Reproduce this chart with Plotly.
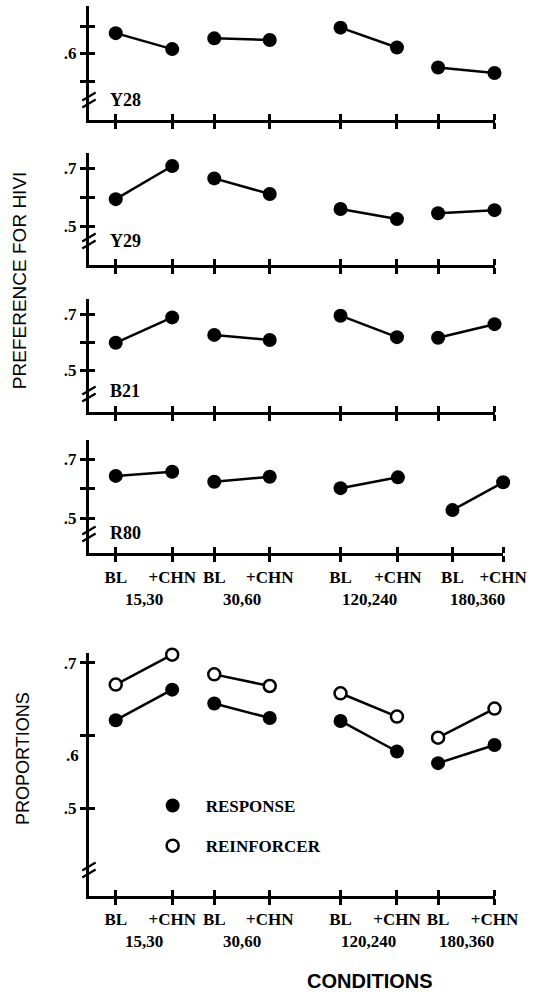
import plotly.graph_objects as go

W, H = 552, 994

# ---------------- data ----------------
CONDITIONS = ["BL", "+CHN", "BL", "+CHN", "BL", "+CHN", "BL", "+CHN"]
GROUPS = ["15,30", "30,60", "120,240", "180,360"]
SUBJECTS = ["Y28", "Y29", "B21", "R80"]

Y28 = [0.674, 0.616, 0.655, 0.649, 0.694, 0.622, 0.549, 0.529]
Y29 = [0.593, 0.708, 0.665, 0.611, 0.559, 0.524, 0.544, 0.555]
B21 = [0.598, 0.688, 0.626, 0.608, 0.694, 0.618, 0.616, 0.664]
R80 = [0.644, 0.658, 0.624, 0.641, 0.602, 0.639, 0.527, 0.622]
RESPONSE = [0.621, 0.663, 0.644, 0.624, 0.620, 0.578, 0.562, 0.587]
REINFORCER = [0.670, 0.711, 0.684, 0.668, 0.658, 0.626, 0.597, 0.637]

Y_TICKS = [0.5, 0.6, 0.7]

# ---------------- layout constants (pixels) ----------------
AXIS_LEFT = 93
SLOTS = [121, 180, 224, 282, 356, 415, 458, 517]
SLOTS_R80 = [121, 180, 224, 282, 356, 416, 473, 526]

PANELS = [
    dict(top=6, bottom=119.5, hi=(0.7, 26.0), lo=(0.5, 81.0), break_y=100, label_y=100, ticktext=["", ".6", ""]),
    dict(top=152.7, bottom=264.5, hi=(0.7, 168.3), lo=(0.5, 226.0), break_y=241, label_y=241, ticktext=[".5", "", ".7"]),
    dict(top=299.3, bottom=411.7, hi=(0.7, 314.0), lo=(0.5, 370.5), break_y=394, label_y=391, ticktext=[".5", "", ".7"]),
    dict(top=440.0, bottom=553.3, hi=(0.7, 459.5), lo=(0.5, 518.0), break_y=534, label_y=533, ticktext=[".5", "", ".7"]),
    dict(top=653.0, bottom=895.5, hi=(0.7, 662.7), lo=(0.5, 808.3), break_y=870, label_y=None, ticktext=[".5", "", ".7"]),
]

SERIF = "Liberation Serif"
SANS = "Liberation Sans"
BLACK = "#000000"
EPS = 1e-6


def px_x(p):
    return p / W


def px_y(p):
    return 1 - p / H


def ref(prefix, k):
    return prefix if k == 1 else f"{prefix}{k}"


fig = go.Figure()
layout = dict(
    width=W, height=H, margin=dict(l=0, r=0, t=0, b=0),
    paper_bgcolor="white", plot_bgcolor="white", showlegend=True,
)
annotations = []
shapes = []

series_list = [Y28, Y29, B21, R80]


def pairs(vals, slots):
    xs, ys = [], []
    for g in range(len(GROUPS)):
        xs += [slots[2 * g], slots[2 * g + 1], None]
        ys += [vals[2 * g], vals[2 * g + 1], None]
    return xs, ys


for i, pan in enumerate(PANELS):
    n = i + 1
    slots = SLOTS_R80 if i == 3 else SLOTS
    right = slots[-1]
    (vh, ph), (vl, pl) = pan["hi"], pan["lo"]
    ppu = (pl - ph) / (vh - vl)
    r_lo = vl - (pan["bottom"] - pl) / ppu
    r_hi = vh + (ph - pan["top"]) / ppu
    ydom = [px_y(pan["bottom"]), px_y(pan["top"])]
    xdom = [px_x(AXIS_LEFT), px_x(right)]
    show_x_labels = i >= 3
    xr, yr = ref("x", n), ref("y", n)

    layout[ref("xaxis", n)] = dict(
        domain=xdom, anchor=yr, range=[AXIS_LEFT, right],
        showgrid=False, zeroline=False, fixedrange=True,
        showline=True, linewidth=3, linecolor=BLACK,
        tickmode="array", tickvals=slots, ticktext=CONDITIONS,
        ticks="outside", ticklen=6, tickwidth=2.5, tickcolor=BLACK,
        showticklabels=show_x_labels,
        tickfont=dict(family=SERIF, size=17, color=BLACK, weight="bold"),
        minor=dict(tickmode="array", tickvals=[s - EPS * 1000 for s in slots], ticks="inside",
                   ticklen=6, tickwidth=2.5, tickcolor=BLACK, showgrid=False),
    )
    layout[ref("yaxis", n)] = dict(
        domain=ydom, anchor=xr, range=[r_lo, r_hi],
        showgrid=False, zeroline=False, fixedrange=True,
        showline=True, linewidth=3, linecolor=BLACK,
        tickmode="array", tickvals=Y_TICKS, ticktext=pan["ticktext"],
        ticks="outside", ticklen=6, tickwidth=2.5, tickcolor=BLACK,
        tickfont=dict(family=SERIF, size=17, color=BLACK, weight="bold"),
        minor=dict(tickmode="array", tickvals=[v + EPS for v in Y_TICKS], ticks="inside",
                   ticklen=6, tickwidth=2.5, tickcolor=BLACK, showgrid=False),
    )

    if i < 4:
        xs, ys = pairs(series_list[i], slots)
        fig.add_trace(go.Scatter(
            x=xs, y=ys, mode="lines+markers", xaxis=xr, yaxis=yr, cliponaxis=False,
            line=dict(color=BLACK, width=2.5),
            marker=dict(symbol="circle", size=14, color=BLACK),
            showlegend=False, name=SUBJECTS[i], hoverinfo="skip",
        ))
        annotations.append(dict(
            text=SUBJECTS[i], x=px_x(113), y=px_y(pan["label_y"]), xref="paper", yref="paper",
            xanchor="left", yanchor="middle", showarrow=False,
            font=dict(family=SERIF, size=18, color=BLACK, weight="bold"),
        ))
    else:
        xs, ys = pairs(RESPONSE, slots)
        fig.add_trace(go.Scatter(
            x=xs, y=ys, mode="lines+markers", xaxis=xr, yaxis=yr, cliponaxis=False,
            line=dict(color=BLACK, width=2.5),
            marker=dict(symbol="circle", size=14, color=BLACK),
            showlegend=False, name="RESPONSE", hoverinfo="skip",
        ))
        xs, ys = pairs(REINFORCER, slots)
        fig.add_trace(go.Scatter(
            x=xs, y=ys, mode="lines+markers", xaxis=xr, yaxis=yr, cliponaxis=False,
            line=dict(color=BLACK, width=2.5),
            marker=dict(symbol="circle", size=12, color="white", line=dict(color=BLACK, width=2.5)),
            showlegend=False, name="REINFORCER", hoverinfo="skip",
        ))
        fig.add_trace(go.Scatter(
            x=[None], y=[None], mode="markers", xaxis=xr, yaxis=yr,
            marker=dict(symbol="circle", size=14, color=BLACK),
            name="RESPONSE", legendgroup="a", showlegend=True,
        ))
        fig.add_trace(go.Scatter(
            x=[None], y=[None], mode="markers", xaxis=xr, yaxis=yr,
            marker=dict(symbol="circle", size=12, color="white", line=dict(color=BLACK, width=2.5)),
            name="REINFORCER", legendgroup="b", showlegend=True,
        ))
        annotations.append(dict(
            text=".6", x=px_x(85), y=px_y(755), xref="paper", yref="paper",
            xanchor="right", yanchor="middle", showarrow=False,
            font=dict(family=SERIF, size=17, color=BLACK, weight="bold"),
        ))

    if show_x_labels:
        for g, lab in enumerate(GROUPS):
            annotations.append(dict(
                text=lab, x=(slots[2 * g] + slots[2 * g + 1]) / 2, y=px_y(pan["bottom"] + 46),
                xref=xr, yref="paper", xanchor="center", yanchor="middle",
                showarrow=False,
                font=dict(family=SERIF, size=17, color=BLACK, weight="bold"),
            ))

    for off in (-3.5, 3.5):
        yc = pan["break_y"] + off
        shapes.append(dict(
            type="line", xref="paper", yref="paper",
            x0=px_x(AXIS_LEFT - 7), y0=px_y(yc + 4), x1=px_x(AXIS_LEFT + 7), y1=px_y(yc - 4),
            line=dict(color=BLACK, width=2.2),
        ))

annotations.append(dict(
    text="PREFERENCE FOR HIVI", x=px_x(20), y=px_y(281), xref="paper", yref="paper",
    textangle=-90, showarrow=False, xanchor="center", yanchor="middle",
    font=dict(family=SANS, size=19, color=BLACK),
))
annotations.append(dict(
    text="PROPORTIONS", x=px_x(24), y=px_y(758), xref="paper", yref="paper",
    textangle=-90, showarrow=False, xanchor="center", yanchor="middle",
    font=dict(family=SANS, size=18, color=BLACK),
))
annotations.append(dict(
    text="CONDITIONS", x=px_x(387), y=px_y(981), xref="paper", yref="paper",
    showarrow=False, xanchor="center", yanchor="middle",
    font=dict(family=SANS, size=20, color=BLACK, weight="bold"),
))

layout["annotations"] = annotations
layout["shapes"] = shapes
layout["legend"] = dict(
    x=px_x(146), y=px_y(788), xanchor="left", yanchor="top",
    bgcolor="rgba(0,0,0,0)", borderwidth=0, tracegroupgap=15,
    font=dict(family=SERIF, size=17, color=BLACK, weight="bold"),
    itemwidth=56,
)
fig.update_layout(**layout)
fig.write_html("out.html")
